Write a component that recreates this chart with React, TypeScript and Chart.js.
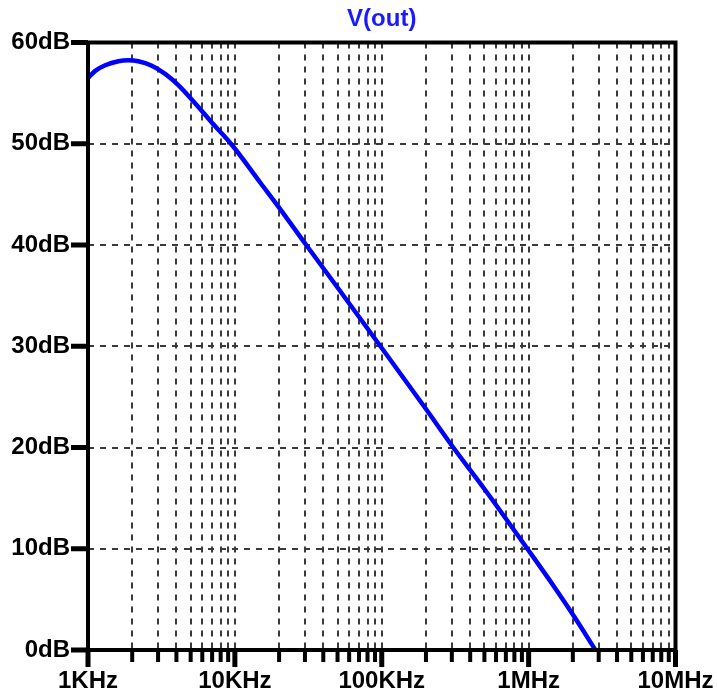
import React, { useEffect, useRef } from "react";
import { Chart, registerables } from "chart.js";

Chart.register(...registerables);

// Curve (frequency in Hz, magnitude in dB)
const freqs = [1000, 1120, 1310, 1610, 1880, 2200, 2720, 3350, 4120, 5360, 6960, 9530, 15000, 20000, 30600, 50000, 98000, 200000, 307000, 500000, 980000, 1500000, 2000000, 2850000];
const gains = [56.5, 57.2, 57.75, 58.15, 58.25, 58.15, 57.7, 56.9, 55.8, 54.0, 52.1, 49.9, 46.1, 43.7, 40.0, 35.8, 30.0, 23.8, 20.0, 15.9, 10.0, 6.2, 3.5, 0.0];

// Axes
const decades = [1000, 10000, 100000, 1000000];
const multipliers = [1, 2, 3, 4, 5, 6, 7, 8, 9];
const majorFreqs = [1000, 10000, 100000, 1000000, 10000000];
const majorLabels = ["1KHz", "10KHz", "100KHz", "1MHz", "10MHz"];
const yTicks = [0, 10, 20, 30, 40, 50, 60];
const yLabels = ["0dB", "10dB", "20dB", "30dB", "40dB", "50dB", "60dB"];
const title = "V(out)";

const FONT = "'Liberation Sans', Arial, sans-serif";

export default function App() {
  const ref = useRef<HTMLCanvasElement | null>(null);

  useEffect(() => {
    if (!ref.current) return;
    const gridFreqs: number[] = [];
    decades.forEach((d) => multipliers.forEach((m) => gridFreqs.push(d * m)));
    gridFreqs.push(majorFreqs[majorFreqs.length - 1]);

    const framePlugin = {
      id: "frame",
      afterDraw(chart: any) {
        const { ctx, chartArea } = chart;
        const { left, right, top, bottom } = chartArea;
        const xs = chart.scales.x;
        const ys = chart.scales.y;
        ctx.save();
        ctx.fillStyle = "#000";
        // left ticks
        yTicks.forEach((v) => {
          const y = ys.getPixelForValue(v);
          ctx.fillRect(left - 17, y - 2.5, 17, 5);
        });
        // bottom ticks
        gridFreqs.forEach((f) => {
          const x = xs.getPixelForValue(f);
          if (majorFreqs.includes(f)) {
            ctx.fillRect(x - 2.5, bottom, 5, 17);
          } else {
            ctx.fillRect(x - 2, bottom, 4, 12);
          }
        });
        ctx.strokeStyle = "#000";
        ctx.lineWidth = 4;
        ctx.strokeRect(left, top, right - left, bottom - top);
        ctx.restore();
      },
    };

    const chart = new Chart(ref.current, {
      type: "line",
      data: {
        datasets: [
          {
            data: freqs.map((f, i) => ({ x: f, y: gains[i] })),
            borderColor: "#0000ff",
            borderWidth: 4.5,
            pointRadius: 0,
            cubicInterpolationMode: "monotone",
            fill: false,
          },
        ],
      },
      options: {
        animation: false,
        responsive: false,
        devicePixelRatio: 1,
        layout: { padding: { left: 0, right: 41.5, top: 0, bottom: 0 } },
        plugins: {
          legend: { display: false },
          tooltip: { enabled: false },
          title: {
            display: true,
            text: title,
            fullSize: false,
            color: "#1a1aff",
            font: { family: FONT, size: 24, weight: "bold", lineHeight: 1.2 },
            padding: { top: 5, bottom: 8.7 },
          },
        },
        scales: {
          x: {
            type: "logarithmic",
            min: 1000,
            max: 10000000,
            afterBuildTicks: (scale: any) => {
              scale.ticks = gridFreqs.map((v) => ({ value: v, major: majorFreqs.includes(v) }));
            },
            afterFit: (scale: any) => {
              scale.height = 46;
              scale.paddingLeft = 0;
              scale.paddingRight = 0;
            },
            grid: { color: "#3a3a3a", lineWidth: 2, drawTicks: false },
            border: { display: false, dash: [6, 6] },
            ticks: {
              autoSkip: false,
              maxRotation: 0,
              minRotation: 0,
              padding: 17,
              color: "#000",
              font: { family: FONT, size: 24, weight: "bold" },
              callback: (v: any) => {
                const i = majorFreqs.indexOf(Number(v));
                return i >= 0 ? majorLabels[i] : "";
              },
            },
          },
          y: {
            type: "linear",
            min: 0,
            max: 60,
            afterBuildTicks: (scale: any) => {
              scale.ticks = yTicks.map((v) => ({ value: v }));
            },
            afterFit: (scale: any) => {
              scale.width = 88;
              scale.paddingTop = 0;
              scale.paddingBottom = 0;
            },
            grid: { color: "#3a3a3a", lineWidth: 2, drawTicks: false },
            border: { display: false, dash: [6, 6] },
            ticks: {
              padding: 18,
              color: "#000",
              font: { family: FONT, size: 24, weight: "bold" },
              callback: (v: any) => {
                const i = yTicks.indexOf(Number(v));
                return i >= 0 ? yLabels[i] : "";
              },
            },
          },
        },
      },
      plugins: [framePlugin],
    } as any);
    return () => chart.destroy();
  }, []);

  return (
    <div style={{ position: "fixed", left: 0, top: 0, width: 717, height: 696, background: "#fff" }}>
      <canvas ref={ref} width={717} height={696} style={{ display: "block" }} />
    </div>
  );
}
